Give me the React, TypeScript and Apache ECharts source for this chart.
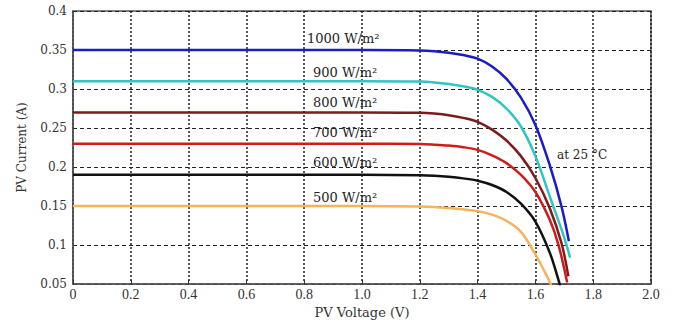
import React, { useEffect, useRef } from "react";
import * as echarts from "echarts";

// PV Voltage (V) sample points and PV Current (A) for each irradiance level
const v1000 = [0, 0.5, 1.0, 1.2, 1.25, 1.3, 1.35, 1.4, 1.45, 1.5, 1.55, 1.6, 1.65, 1.69, 1.716];
const i1000 = [0.35, 0.35, 0.35, 0.3495, 0.3485, 0.3465, 0.3435, 0.339, 0.329, 0.313, 0.289, 0.254, 0.202, 0.15, 0.105];

const v900 = [0, 0.5, 1.0, 1.2, 1.25, 1.3, 1.35, 1.4, 1.45, 1.5, 1.55, 1.6, 1.65, 1.695, 1.72];
const i900 = [0.31, 0.31, 0.31, 0.3095, 0.3085, 0.3065, 0.3035, 0.299, 0.29, 0.275, 0.252, 0.214, 0.162, 0.115, 0.084];

const v800 = [0, 0.5, 1.0, 1.2, 1.25, 1.3, 1.35, 1.4, 1.45, 1.5, 1.55, 1.6, 1.65, 1.69, 1.714];
const i800 = [0.27, 0.27, 0.27, 0.2695, 0.2685, 0.2665, 0.263, 0.258, 0.248, 0.234, 0.214, 0.186, 0.147, 0.103, 0.06];

const v700 = [0, 0.5, 1.0, 1.2, 1.25, 1.3, 1.35, 1.4, 1.45, 1.5, 1.55, 1.6, 1.65, 1.68, 1.71];
const i700 = [0.23, 0.23, 0.23, 0.2295, 0.2287, 0.2275, 0.2255, 0.222, 0.215, 0.205, 0.19, 0.168, 0.132, 0.1, 0.052];

const v600 = [0, 0.5, 1.0, 1.2, 1.25, 1.3, 1.35, 1.4, 1.45, 1.5, 1.55, 1.6, 1.65, 1.68, 1.69];
const i600 = [0.19, 0.19, 0.19, 0.1895, 0.1888, 0.1875, 0.1855, 0.1825, 0.177, 0.168, 0.153, 0.13, 0.09, 0.055, 0.042];

const v500 = [0, 0.5, 1.0, 1.2, 1.25, 1.3, 1.35, 1.4, 1.45, 1.5, 1.55, 1.6, 1.64, 1.665];
const i500 = [0.15, 0.15, 0.15, 0.1495, 0.1488, 0.1475, 0.1458, 0.1435, 0.139, 0.131, 0.117, 0.088, 0.06, 0.04];

const seriesNames = ["1000 W/m²", "900 W/m²", "800 W/m²", "700 W/m²", "600 W/m²", "500 W/m²"];
const seriesVoltages = [v1000, v900, v800, v700, v600, v500];
const seriesCurrents = [i1000, i900, i800, i700, i600, i500];
const seriesColors = ["#1c1cc4", "#30c4c4", "#7b1c1c", "#d11a1a", "#111111", "#f4b35c"];

const xMin = 0;
const xMax = 2.0;
const xStep = 0.2;
const yMin = 0.05;
const yMax = 0.4;
const yStep = 0.05;

const xAxisTitle = "PV Voltage (V)";
const yAxisTitle = "PV Current (A)";
const tempNote = "at 25 °C";

// label placement (pixels)
const labelLefts = [307, 313, 313, 313, 313, 313];
const labelTops = [38, 72, 102, 132, 162, 197];

export default function App() {
  const ref = useRef<HTMLDivElement>(null);

  useEffect(() => {
    document.body.style.margin = "0";
    if (!ref.current) return;
    const chart = echarts.init(ref.current, undefined, { renderer: "svg" });

    const serif = "DejaVu Serif";

    const series = seriesNames.map((name, k) => ({
      name,
      type: "line" as const,
      data: seriesVoltages[k].map((v, j) => [v, seriesCurrents[k][j]]),
      showSymbol: false,
      smooth: 0.35,
      clip: true,
      lineStyle: { color: seriesColors[k], width: 2.5 },
      itemStyle: { color: seriesColors[k] },
      z: 3,
    }));

    const labels = seriesNames.map((name, k) => ({
      type: "text" as const,
      x: labelLefts[k],
      y: labelTops[k],
      z: 10,
      style: {
        text: name,
        fill: "#222",
        font: `13px "${serif}"`,
        verticalAlign: "middle",
        align: "left",
      },
    }));

    chart.setOption({
      animation: false,
      backgroundColor: "#ffffff",
      grid: {
        left: 73,
        right: 24,
        top: 11,
        bottom: 32,
        show: true,
        borderColor: "#555",
        borderWidth: 1.5,
        backgroundColor: "transparent",
      },
      xAxis: {
        type: "value",
        min: xMin,
        max: xMax,
        interval: xStep,
        name: xAxisTitle,
        nameLocation: "middle",
        nameGap: 14,
        nameTextStyle: { fontFamily: serif, fontSize: 13, color: "#333" },
        axisLine: { show: true, lineStyle: { color: "#555", width: 1.5 } },
        axisTick: { show: true, inside: true, length: 4, lineStyle: { color: "#333" } },
        axisLabel: {
          fontFamily: "Liberation Serif",
          fontSize: 14,
          color: "#333",
          margin: 3,
          formatter: (v: number) => (v === 0 ? "0" : v.toFixed(1)),
        },
        splitLine: {
          show: true,
          lineStyle: { color: "#222", width: 1.5, type: [2, 2] },
        },
      },
      yAxis: {
        type: "value",
        min: yMin,
        max: yMax,
        interval: yStep,
        name: yAxisTitle,
        nameLocation: "middle",
        nameGap: 45,
        nameRotate: 90,
        nameTextStyle: { fontFamily: serif, fontSize: 12, color: "#333" },
        axisLine: { show: true, lineStyle: { color: "#555", width: 1.5 } },
        axisTick: { show: false },
        axisLabel: {
          fontFamily: serif,
          fontSize: 12,
          color: "#333",
          margin: 6,
          formatter: (v: number) => String(parseFloat(v.toFixed(2))),
        },
        splitLine: {
          show: true,
          lineStyle: { color: "#222", width: 1, type: [4, 3] },
        },
      },
      series,
      graphic: [
        ...labels,
        {
          type: "text",
          x: 557,
          y: 155,
          z: 10,
          style: {
            text: tempNote,
            fill: "#222",
            font: `12px "${serif}"`,
            verticalAlign: "middle",
            align: "left",
          },
        },
      ],
    });

    return () => {
      chart.dispose();
    };
  }, []);

  return <div ref={ref} style={{ width: 675, height: 324 }} />;
}
